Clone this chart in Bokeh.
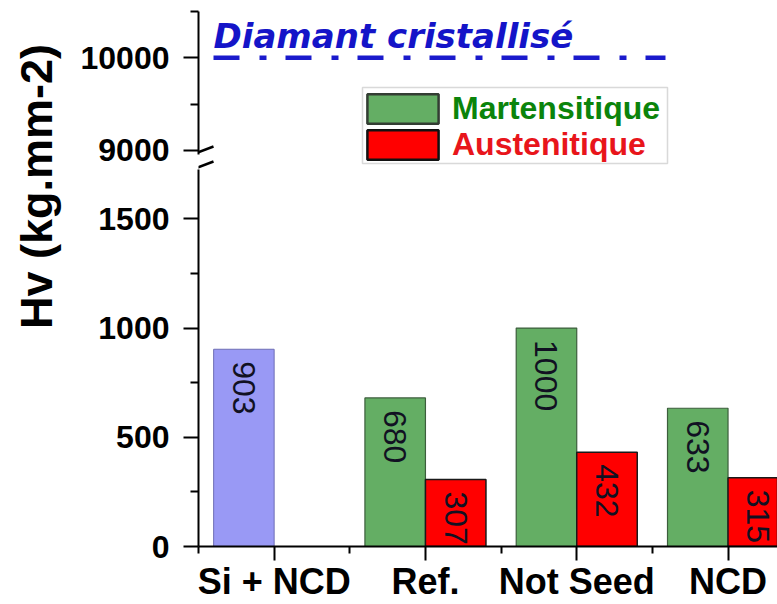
import math
from bokeh.plotting import figure
from bokeh.models import (FixedTicker, Legend, LegendItem, BoxAnnotation, Arrow,
                          Range1d)
from bokeh.layouts import row, column
from bokeh.core.properties import value
from bokeh.embed import file_html
from bokeh.resources import INLINE

# ---------------- data ----------------
categories = ["Si + NCD", "Ref.", "Not Seed", "NCD"]
si_ncd_hv = [903]                      # Si + NCD (reference sample)
steel_categories = ["Ref.", "Not Seed", "NCD"]
martensitique_hv = [680, 1000, 633]
austenitique_hv = [307, 432, 315]
diamant_hv = 10000
diamant_label = "Diamant cristallisé"
lower_ticks = [0, 500, 1000, 1500]
lower_minor = [250, 750, 1250]
upper_ticks = [9000, 10000]
upper_minor = [9500, 10500]
y_label = "Hv (kg.mm-2)"

# ---------------- style ----------------
FONT = "Liberation Sans"
BLUE = "#9999f5"
GREEN = "#64ae64"
RED = "#ff0000"
BAR_W = 0.4

# layout geometry (picture pixels)
LABEL_W = 74
FIG_W = 703
TOP_H = 169
LOW_H = 435
BORDER_L = 124

X0, X1 = 0.5, 4.327
TOP_Y0, TOP_Y1 = 8794, 10500
LOW_Y0, LOW_Y1 = 0, 1726

# picture-pixel -> data helpers (for decorations only)
def xd(px):
    return X0 + (px - 198) * (X1 - X0) / 579.0

def top_y(py):
    return TOP_Y1 - (py - 11) * (TOP_Y1 - TOP_Y0) / 158.0

def low_y(py):
    return (548 - py) * (LOW_Y1 - LOW_Y0) / 379.0

xr = Range1d(X0, X1)

def base_fig(h, yr, **kw):
    p = figure(width=FIG_W, height=h, x_range=xr, y_range=yr,
               toolbar_location=None, output_backend="svg",
               min_border_left=BORDER_L, min_border_right=0, **kw)
    p.outline_line_color = None
    p.grid.visible = False
    p.background_fill_color = "white"
    p.border_fill_color = "white"
    return p

def style_axis(ax, size, tick_out, minor_out, standoff):
    ax.axis_line_width = 2
    ax.axis_line_color = "black"
    ax.major_tick_line_width = 2
    ax.minor_tick_line_width = 2
    ax.major_tick_out = tick_out
    ax.major_tick_in = 0
    ax.minor_tick_out = minor_out
    ax.minor_tick_in = 0
    ax.major_label_text_font = FONT
    ax.major_label_text_font_style = "bold"
    ax.major_label_text_font_size = size
    ax.major_label_text_color = "black"
    ax.major_label_standoff = standoff

si_x = [categories.index("Si + NCD") + 1 - BAR_W / 2]
steel_x = [categories.index(c) + 1 for c in steel_categories]
mart_x = [x - BAR_W / 2 for x in steel_x]
aust_x = [x + BAR_W / 2 for x in steel_x]

# ---------------- top panel (upper part of the broken axis) ----------------
p_top = base_fig(TOP_H, Range1d(TOP_Y0, TOP_Y1), x_axis_location=None,
                 min_border_top=11, min_border_bottom=0)
style_axis(p_top.yaxis[0], "32px", 15, 8, 14)
p_top.yaxis[0].ticker = FixedTicker(ticks=upper_ticks, minor_ticks=upper_minor)
p_top.yaxis[0].bounds = (8960, TOP_Y1)

diamant_span = [xd(213), xd(665)]
p_top.line(x=diamant_span, y=[diamant_hv, diamant_hv], line_color="#1a1acc",
           line_width=4.5, line_dash="26 20 7 19")
p_top.text(x=[diamant_span[0]], y=[diamant_hv], text=[diamant_label],
           text_font=value("DejaVu Sans"), text_font_style="bold italic",
           text_font_size="34px", text_color="#1414c8",
           text_align="left", text_baseline="middle", y_offset=-22)

# the steel series in the upper panel too (their bars lie below this panel's
# range); these renderers carry the legend swatches
g_top = p_top.vbar(x=mart_x, top=martensitique_hv, width=BAR_W, fill_color=GREEN,
                   line_color="#333d33", line_width=2.5)
r_top = p_top.vbar(x=aust_x, top=austenitique_hv, width=BAR_W, fill_color=RED,
                   line_color="#111111", line_width=2.5)
# clean lower edge of the upper panel (the out-of-range bars are clamped there)
p_top.add_layout(BoxAnnotation(bottom=TOP_Y0, top=top_y(165.5), fill_color="white",
                               fill_alpha=1, line_alpha=0))

# ---------------- lower panel ----------------
p_low = base_fig(LOW_H, Range1d(LOW_Y0, LOW_Y1), min_border_top=0,
                 min_border_bottom=56)
style_axis(p_low.yaxis[0], "32px", 15, 8, 14)
p_low.yaxis[0].ticker = FixedTicker(ticks=lower_ticks, minor_ticks=lower_minor)
style_axis(p_low.xaxis[0], "36px", 14, 7, 0)
cat_pos = [i + 1 for i in range(len(categories))]
p_low.xaxis[0].ticker = FixedTicker(ticks=cat_pos,
                                    minor_ticks=[c - 0.5 for c in cat_pos])
p_low.xaxis[0].major_label_overrides = {c: name for c, name in zip(cat_pos, categories)}

p_low.vbar(x=si_x, top=si_ncd_hv, width=BAR_W, fill_color=BLUE,
           line_color="#6f6fb5", line_width=1)
p_low.vbar(x=mart_x, top=martensitique_hv, width=BAR_W, fill_color=GREEN,
           line_color="#3c5e3c", line_width=1.2)
p_low.vbar(x=aust_x, top=austenitique_hv, width=BAR_W, fill_color=RED,
           line_color="#1a1a1a", line_width=1.5)

lab_x = si_x + mart_x + aust_x
lab_y = si_ncd_hv + martensitique_hv + austenitique_hv
p_low.text(x=lab_x, y=lab_y, text=[str(v) for v in lab_y], angle=-math.pi / 2,
           text_align="left", text_baseline="middle", y_offset=12,
           text_font=value(FONT), text_font_size="32px", text_color="#111122")

# ---------------- legend (in the upper panel) ----------------
p_top.add_layout(BoxAnnotation(left=xd(362), right=xd(667), top=top_y(87),
                               bottom=top_y(163), fill_color="white", fill_alpha=1,
                               line_color="#808080", line_width=1.5))

def make_legend(label, rend, color, loc):
    return Legend(items=[LegendItem(label=label, renderers=[rend])], location=loc,
                  glyph_width=89, glyph_height=37, label_height=37,
                  label_standoff=5, padding=0, margin=0, spacing=0,
                  border_line_alpha=0, background_fill_alpha=0,
                  label_text_font=FONT, label_text_font_style="bold",
                  label_text_font_size="32px", label_text_color=color)

p_top.add_layout(make_legend("Martensitique", g_top, "#0b840b", (160, 42)))
p_top.add_layout(make_legend("Austenitique", r_top, "#e8151b", (160, 6)))

# ---------------- axis-break marks ----------------
p_top.add_layout(Arrow(end=None, x_start=xd(184), y_start=top_y(157),
                       x_end=xd(213), y_end=top_y(146), line_width=2.5,
                       line_color="black"))
p_top.add_layout(Arrow(end=None, x_start=xd(184), y_start=top_y(172),
                       x_end=xd(213), y_end=top_y(161), line_width=2.5,
                       line_color="black"))
p_low.add_layout(Arrow(end=None, x_start=xd(184), y_start=low_y(172),
                       x_end=xd(213), y_end=low_y(161), line_width=2.5,
                       line_color="black"))

# ---------------- y-axis title column ----------------
TOTAL_H = TOP_H + LOW_H
lab = figure(width=LABEL_W, height=TOTAL_H, x_range=Range1d(0, LABEL_W),
             y_range=Range1d(0, TOTAL_H), toolbar_location=None,
             output_backend="svg", x_axis_location=None, y_axis_location=None,
             min_border=0)
lab.outline_line_color = None
lab.grid.visible = False
lab.text(x=[36], y=[TOTAL_H - 186], text=[y_label], angle=math.pi / 2,
         text_align="center", text_baseline="middle", text_font=value(FONT),
         text_font_style="bold", text_font_size="45px", text_color="black")

layout = row(lab, column(p_top, p_low))
open("out.html", "w").write(file_html(layout, INLINE))
